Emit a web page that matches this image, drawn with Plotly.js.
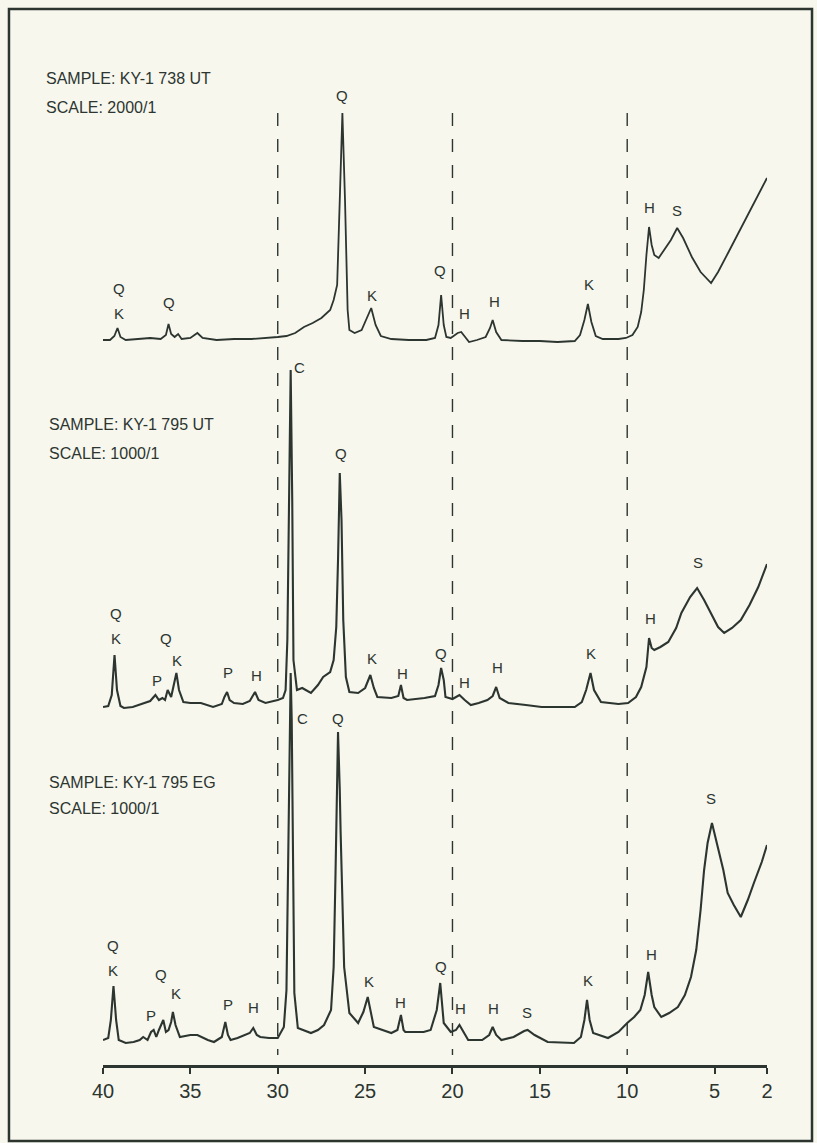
<!DOCTYPE html>
<html>
<head>
<meta charset="utf-8">
<script src="https://cdn.plot.ly/plotly-3.0.1.min.js"></script>
<style>
  html, body { margin: 0; padding: 0; background: #f7f7ee; }
  #chart { width: 817px; height: 1143px; }
</style>
</head>
<body>
<div id="chart"></div>
<script>
// ---------------- DATA (2θ in degrees, intensity in arbitrary units) ----------------
// Sample KY-1 738 UT (scale 2000/1)
const theta_738UT = [40.0,39.6,39.35,39.17,39.0,38.7,38.0,37.3,36.7,36.4,36.25,36.1,35.9,35.7,35.5,35.0,34.6,34.3,33.5,32.5,31.5,30.5,30.0,29.5,29.0,28.5,28.0,27.5,27.0,26.8,26.6,26.45,26.3,26.15,26.0,25.9,25.6,25.2,24.9,24.65,24.4,24.1,23.5,22.5,21.5,21.0,20.8,20.65,20.5,20.35,20.1,19.7,19.5,19.3,19.05,18.6,18.1,17.85,17.7,17.5,17.2,16.0,15.0,14.0,13.0,12.7,12.45,12.25,12.05,11.8,11.4,10.5,10.07,9.7,9.4,9.2,9.05,8.9,8.75,8.6,8.45,8.2,7.9,7.5,7.14,6.8,6.3,5.8,5.2,4.8,4.2,3.5,2.8,2.3,2.0];
const counts_738UT = [5,5,9,17,8,5,6,7,6,10,21,11,8,11,6,7,12,7,5,6,6,7,8,9,12,18,22,27,35,45,60,145,232,145,35,15,12,15,27,37,20,9,6,5,5,7,20,50,20,8,7,12,13,9,3,5,8,17,25,13,5,4,4,3,4,10,25,41,23,9,6,6,7,10,18,33,55,90,118,100,90,87,95,105,117,107,88,73,62,73,93,117,140,157,167];

// Sample KY-1 795 UT (scale 1000/1)
const theta_795UT = [40.0,39.7,39.5,39.34,39.2,39.0,38.8,38.3,37.8,37.3,37.0,36.8,36.6,36.45,36.3,36.1,35.95,35.8,35.65,35.4,35.0,34.4,33.7,33.2,33.05,32.9,32.75,32.5,32.0,31.6,31.3,31.1,30.7,30.4,30.0,29.7,29.55,29.45,29.35,29.26,29.17,29.1,28.9,28.6,28.1,27.7,27.4,27.0,26.8,26.65,26.55,26.45,26.35,26.25,26.1,25.9,25.4,25.0,24.7,24.5,24.3,23.5,23.1,22.95,22.8,22.6,21.6,21.0,20.8,20.65,20.5,20.4,20.0,19.6,19.3,18.95,18.5,18.0,17.7,17.5,17.3,16.8,15.8,14.9,13.0,12.6,12.35,12.1,11.9,11.5,10.5,9.95,9.5,9.2,8.9,8.8,8.75,8.6,8.45,8.1,7.65,7.2,6.9,6.4,6.0,5.6,5.2,4.8,4.45,4.0,3.5,3.0,2.5,2.0];
const counts_795UT = [5,6,17,57,22,6,4,5,8,11,17,12,14,12,22,15,27,39,22,10,9,9,5,8,15,20,12,9,8,11,20,12,9,10,12,14,22,72,232,342,212,52,22,24,19,27,35,40,52,85,152,239,192,92,35,20,19,24,37,24,15,14,16,27,14,12,14,16,27,44,32,15,13,17,12,7,9,12,16,25,14,9,7,5,5,10,22,39,22,10,8,9,15,25,45,67,74,64,62,65,70,84,99,115,124,112,99,85,79,84,92,107,125,148];

// Sample KY-1 795 EG (scale 1000/1)
const theta_795EG = [40.0,39.7,39.55,39.4,39.25,39.1,38.7,38.25,37.9,37.7,37.45,37.25,37.1,36.95,36.8,36.55,36.4,36.25,36.1,36.0,35.85,35.6,35.0,34.6,34.0,33.65,33.2,33.0,32.85,32.7,32.3,31.9,31.6,31.4,31.2,31.0,30.5,30.0,29.65,29.5,29.4,29.3,29.26,29.2,29.12,29.05,28.85,28.5,28.1,27.7,27.35,26.95,26.8,26.7,26.55,26.45,26.4,26.2,25.9,25.4,25.1,24.85,24.6,24.5,23.5,23.15,22.95,22.8,22.7,21.65,21.25,20.9,20.7,20.5,20.1,19.8,19.6,19.35,19.1,18.3,17.9,17.7,17.5,17.2,16.5,15.9,15.7,15.3,14.55,13.05,12.65,12.45,12.3,12.15,11.95,11.1,10.5,10.0,9.6,9.25,9.0,8.8,8.6,8.45,8.05,7.6,7.1,6.7,6.35,6.05,5.8,5.6,5.4,5.15,4.95,4.8,4.5,4.25,3.9,3.5,3.1,2.75,2.3,2.0];
const counts_795EG = [8,10,28,62,28,8,5,6,8,11,8,16,18,11,18,28,16,18,26,36,23,11,13,13,8,6,11,26,13,8,10,13,15,20,13,11,10,10,21,58,198,348,375,328,148,55,20,18,15,18,23,38,81,168,316,258,215,81,35,25,36,51,30,21,15,18,33,18,16,16,18,38,65,25,16,18,23,15,8,8,13,21,13,8,11,17,18,13,6,5,11,28,48,28,15,10,16,25,31,38,53,76,53,41,31,35,41,53,71,98,138,178,205,225,210,198,178,155,143,131,148,165,186,203];

// Vertical stacking offsets of the three patterns
const offset_738UT = 720;
const offset_795UT = 353;
const offset_795EG = 17;

// Sample captions
const sampleNames = ["SAMPLE: KY-1 738 UT", "SAMPLE: KY-1 795 UT", "SAMPLE: KY-1 795 EG"];
const sampleScales = ["SCALE: 2000/1", "SCALE: 1000/1", "SCALE: 1000/1"];

// Mineral peak labels (2θ, height in same intensity units as the pattern)
const peakText_738UT = ["Q","K","Q","Q","K","Q","H","H","K","H","S"];
const peakX_738UT    = [39.1,39.1,36.2,26.3,24.6,20.7,19.3,17.6,12.2,8.75,7.14];
const peakY_738UT    = [57,32,43,250,50,75,32,44,61,138,135];

const peakText_795UT = ["Q","K","P","Q","K","P","H","C","Q","K","H","Q","H","H","K","H","S"];
const peakX_795UT    = [39.23,39.23,36.93,36.42,35.79,32.87,31.21,28.74,26.4,24.62,22.85,20.66,19.34,17.45,12.07,8.69,5.94];
const peakY_795UT    = [99,74,32,74,52,40,37,345,259,54,39,59,30,45,59,94,150];

const peakText_795EG = ["Q","K","P","Q","K","P","H","C","Q","K","H","Q","H","H","S","K","H","S"];
const peakX_795EG    = [39.4,39.4,37.23,36.7,35.85,32.87,31.38,28.57,26.57,24.79,22.96,20.66,19.52,17.68,15.73,12.23,8.63,5.19];
const peakY_795EG    = [103,78,33,74,55,44,41,330,330,67,46,82,40,40,36,68,94,250];

// Axis ticks
const tickValues = [40,35,30,25,20,15,10,5,2];
const tickLabels = ["40","35","30","25","20","15","10","5","2"];
const guideLines2theta = [30,20,10];
const axisTitle = "2θ";

// ---------------- BUILD ----------------
const ink = "#2c3530";
const bg = "#f7f7ee";
const fontFam = "'Liberation Sans', Arial, Helvetica, sans-serif";

function shifted(arr, off) { return arr.map(v => v + off); }

const lineWidths = [1.8, 2.1, 2.1];
const traces = [
  {x: theta_738UT, y: shifted(counts_738UT, offset_738UT)},
  {x: theta_795UT, y: shifted(counts_795UT, offset_795UT)},
  {x: theta_795EG, y: shifted(counts_795EG, offset_795EG)}
].map((t, i) => Object.assign(t, {
  type: "scatter", mode: "lines", hoverinfo: "skip",
  line: {color: ink, width: lineWidths[i], shape: "linear"}, showlegend: false
}));

const annotations = [];
function addPeaks(txt, xs, ys, off) {
  txt.forEach((t, i) => annotations.push({
    x: xs[i], y: ys[i] + off, xref: "x", yref: "y", text: t, showarrow: false,
    font: {family: fontFam, size: 15, color: ink}, xanchor: "center", yanchor: "middle"
  }));
}
addPeaks(peakText_738UT, peakX_738UT, peakY_738UT, offset_738UT);
addPeaks(peakText_795UT, peakX_795UT, peakY_795UT, offset_795UT);
addPeaks(peakText_795EG, peakX_795EG, peakY_795EG, offset_795EG);

// Sample captions positions (axis units)
const capY = [[987, 958], [641, 612], [283, 257]];
const capX = [-0.089, -0.084, -0.084];
sampleNames.forEach((s, i) => {
  annotations.push({x: capX[i], y: capY[i][0], xref: "paper", yref: "y", text: s, showarrow: false,
    xanchor: "left", yanchor: "middle", font: {family: fontFam, size: 16, color: ink}});
  annotations.push({x: capX[i], y: capY[i][1], xref: "paper", yref: "y", text: sampleScales[i], showarrow: false,
    xanchor: "left", yanchor: "middle", font: {family: fontFam, size: 16, color: ink}});
});
annotations.push({x: 22.7, y: -53, xref: "x", yref: "y", text: axisTitle, showarrow: false,
  font: {family: fontFam, size: 18, color: ink}, xanchor: "center", yanchor: "middle"});

const shapes = guideLines2theta.map(v => ({
  type: "line", xref: "x", yref: "y", x0: v, x1: v, y0: 952, y1: 10,
  line: {color: ink, width: 1.4, dash: "13px,13px"}
}));
shapes.push({type: "rect", xref: "paper", yref: "paper", x0: -0.1416, x1: 1.0678, y0: -0.0719, y1: 0.999,
  line: {color: ink, width: 2.5}, fillcolor: "rgba(0,0,0,0)"});

const layout = {
  width: 817, height: 1143,
  margin: {l: 103, r: 50, t: 8, b: 78},
  paper_bgcolor: bg, plot_bgcolor: bg,
  font: {family: fontFam, color: ink},
  xaxis: {
    range: [40, 2], autorange: false, showgrid: false, zeroline: false,
    showline: true, linecolor: ink, linewidth: 2.5,
    ticks: "outside", ticklen: 6, tickwidth: 2, tickcolor: ink,
    tickmode: "array", tickvals: tickValues, ticktext: tickLabels,
    tickfont: {family: fontFam, size: 20, color: ink}
  },
  yaxis: {range: [0, 1057], autorange: false, visible: false, showgrid: false, zeroline: false},
  annotations: annotations,
  shapes: shapes,
  showlegend: false
};

Plotly.newPlot("chart", traces, layout, {displayModeBar: false, staticPlot: true});
</script>
</body>
</html>
